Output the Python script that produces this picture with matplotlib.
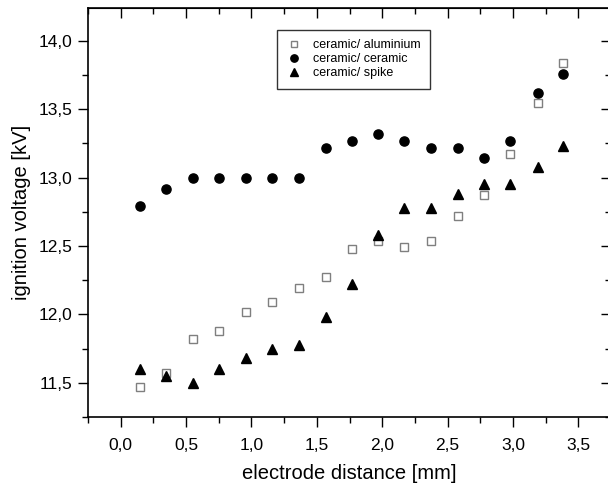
import matplotlib
matplotlib.use("Agg")
import matplotlib.pyplot as plt
from matplotlib.ticker import MultipleLocator, FuncFormatter

plt.rcParams['font.family'] = ['Liberation Sans', 'DejaVu Sans']

x = [0.15, 0.35, 0.55, 0.75, 0.96, 1.16, 1.36, 1.57, 1.77, 1.97,
     2.17, 2.37, 2.58, 2.78, 2.98, 3.19, 3.38]
alu = [11.47, 11.575, 11.82, 11.88, 12.02, 12.09, 12.19, 12.275, 12.48, 12.54,
       12.49, 12.54, 12.72, 12.87, 13.17, 13.545, 13.84]
cer = [12.79, 12.92, 13.0, 13.0, 13.0, 13.0, 13.0, 13.22, 13.27, 13.32,
       13.27, 13.22, 13.22, 13.14, 13.27, 13.62, 13.76]
spike = [11.60, 11.55, 11.50, 11.60, 11.68, 11.75, 11.78, 11.98, 12.22, 12.58,
         12.78, 12.78, 12.88, 12.95, 12.95, 13.08, 13.23]
labels = ["ceramic/ aluminium", "ceramic/ ceramic", "ceramic/ spike"]

fig = plt.figure(figsize=(6.08, 4.84), dpi=100)
ax = fig.add_axes([88/608, 67/484, (611-88)/608, (417-8)/484])

ax.plot(x, alu, linestyle='none', marker='s', markersize=6,
        markerfacecolor='white', markeredgecolor='#7f7f7f', markeredgewidth=1.0,
        label=labels[0])
ax.plot(x, cer, linestyle='none', marker='o', markersize=6.6,
        color='black', label=labels[1])
ax.plot(x, spike, linestyle='none', marker='^', markersize=7.5,
        color='black', label=labels[2])

ax.set_xlim(-0.25, 3.75)
ax.set_ylim(11.25, 14.24)
ax.xaxis.set_major_locator(MultipleLocator(0.5))
ax.xaxis.set_minor_locator(MultipleLocator(0.25))
ax.yaxis.set_major_locator(MultipleLocator(0.5))
ax.yaxis.set_minor_locator(MultipleLocator(0.25))
fmt = FuncFormatter(lambda v, p: f"{v:.1f}".replace('.', ','))
ax.xaxis.set_major_formatter(fmt)
ax.yaxis.set_major_formatter(fmt)

ax.tick_params(which='both', labelsize=12.5, colors='black', width=1.0)
ax.tick_params(axis='x', which='both', direction='out', top=False)
ax.tick_params(axis='y', which='both', direction='out', right=False)
ax.tick_params(which='major', length=7)
ax.tick_params(which='minor', length=4)
ax.tick_params(axis='x', pad=8)
ax.tick_params(axis='y', pad=4)

# mirrored inward ticks on top/right
sec_x = ax.secondary_xaxis('top')
sec_x.xaxis.set_major_locator(MultipleLocator(0.5))
sec_x.xaxis.set_minor_locator(MultipleLocator(0.25))
sec_x.tick_params(which='both', direction='in', labeltop=False, width=1.0)
sec_x.tick_params(which='major', length=7)
sec_x.tick_params(which='minor', length=4)
sec_y = ax.secondary_yaxis('right')
sec_y.yaxis.set_major_locator(MultipleLocator(0.5))
sec_y.yaxis.set_minor_locator(MultipleLocator(0.25))
sec_y.tick_params(which='both', direction='in', labelright=False, width=1.0)
sec_y.tick_params(which='major', length=7)
sec_y.tick_params(which='minor', length=4)

for s in ax.spines.values():
    s.set_linewidth(1.2)

ax.set_xlabel("electrode distance [mm]", fontsize=14.5, labelpad=8)
ax.set_ylabel("ignition voltage [kV]", fontsize=14.5, labelpad=6)

leg = ax.legend(loc='upper left', bbox_to_anchor=((277-88)/523, (417-30)/409),
                fontsize=9, frameon=True, fancybox=False, shadow=False,
                borderpad=0.75, labelspacing=0.15, handletextpad=0.9,
                handlelength=1.2, borderaxespad=0, markerscale=0.8)
leg.get_frame().set_edgecolor('black')
leg.get_frame().set_linewidth(1.0)

fig.savefig("out.png", dpi=100)
